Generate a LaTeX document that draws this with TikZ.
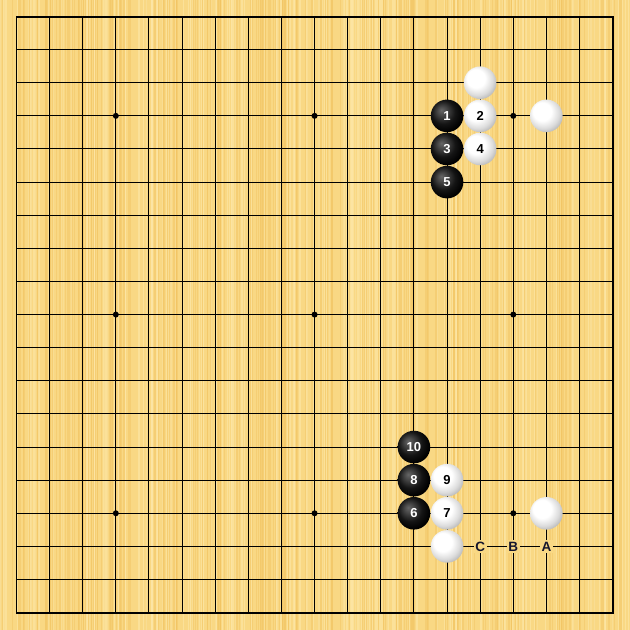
\documentclass[tikz,border=0pt]{standalone}
\usepackage{fontspec}
\setmainfont{Liberation Sans}
\definecolor{board}{RGB}{249,216,132}
\definecolor{grainA}{RGB}{242,196,98}
\definecolor{grainB}{RGB}{253,231,168}
\definecolor{labelc}{RGB}{22,22,45}
\pgfdeclareradialshading{whitestone}{\pgfpoint{-9bp}{9bp}}{color(0bp)=(white); color(14bp)=(white); color(24bp)=(black!14); color(32bp)=(black!32); color(50bp)=(black!50)}
\pgfdeclareradialshading{blackstone}{\pgfpoint{-9bp}{9bp}}{color(0bp)=(black!60); color(7bp)=(black!72); color(18bp)=(black!92); color(28bp)=(black); color(50bp)=(black)}
\tikzset{
  stone/.style={circle, minimum size=32.6pt, inner sep=0pt, font=\fontsize{13}{13}\selectfont\bfseries},
  bstone/.style={stone, shading=blackstone, text=white},
  wstone/.style={stone, shading=whitestone, text=black},
  gridline/.style={line width=1pt, black},
  borderline/.style={line width=2pt, black},
  star/.style={circle, fill=black, minimum size=6pt, inner sep=0pt},
  marklabel/.style={fill=board, inner sep=1.5pt, text=labelc, font=\fontsize{13.5}{13.5}\selectfont\bfseries}
}
\begin{document}
\begin{tikzpicture}[x=33.12pt, y=-33.12pt]
\useasboundingbox (-0.4982,-0.4982) rectangle (18.5242,18.5242);
\fill[board] (-0.4982,-0.4982) rectangle (18.5242,18.5242);
\pgfmathsetseed{7}
\foreach \k in {1,...,260}{
  \pgfmathsetmacro\xx{rnd*19.02-0.4982}
  \pgfmathsetmacro\ww{0.4+rnd*1.2}
  \draw[grainA, opacity=0.45, line width=\ww pt] (\xx,-0.4982) -- (\xx,18.5242);
}
\foreach \k in {1,...,160}{
  \pgfmathsetmacro\xx{rnd*19.02-0.4982}
  \pgfmathsetmacro\ww{0.4+rnd*1.2}
  \draw[grainB, opacity=0.6, line width=\ww pt] (\xx,-0.4982) -- (\xx,18.5242);
}
\foreach \i in {1,...,17}{
  \draw[gridline] (\i,0) -- (\i,18);
  \draw[gridline] (0,\i) -- (18,\i);
}
\draw[borderline] (0,0) rectangle (18,18);
\foreach \a in {3,9,15}{
  \foreach \b in {3,9,15}{
    \node[star] (s\a\b) at (\a,\b) {};
  }
}
% upper right
\node[wstone] (wa) at (14,2) {};
\node[wstone] (wb) at (16,3) {};
\node[bstone] (m1) at (13,3) {1};
\node[wstone] (m2) at (14,3) {2};
\node[bstone] (m3) at (13,4) {3};
\node[wstone] (m4) at (14,4) {4};
\node[bstone] (m5) at (13,5) {5};
% lower right
\node[wstone] (wc) at (16,15) {};
\node[wstone] (wd) at (13,16) {};
\node[bstone] (m6) at (12,15) {6};
\node[wstone] (m7) at (13,15) {7};
\node[bstone] (m8) at (12,14) {8};
\node[wstone] (m9) at (13,14) {9};
\node[bstone] (m10) at (12,13) {10};
\node[marklabel] (lc) at (14,16) {C};
\node[marklabel] (lb) at (15,16) {B};
\node[marklabel] (la) at (16,16) {A};
\end{tikzpicture}
\end{document}
